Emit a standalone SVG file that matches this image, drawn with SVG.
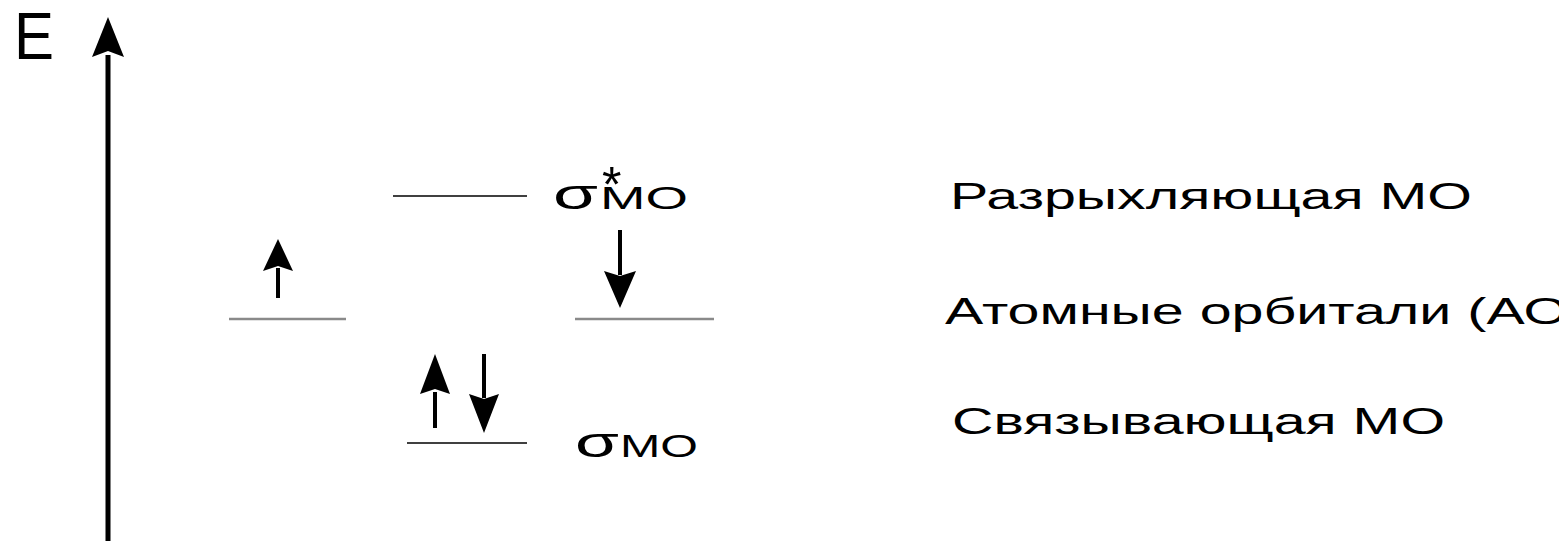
<svg xmlns="http://www.w3.org/2000/svg" width="1559" height="541" viewBox="0 0 1559 541">
  <style>
    .axis { stroke: #000; stroke-width: 5; fill: none; }
    .spin { stroke: #000; stroke-width: 4; fill: none; }
    .mo { stroke: #000; stroke-width: 1.5; }
    .ao { stroke: #8a8a8a; stroke-width: 2.5; }
    .lbl { font-family: "Liberation Sans", Arial, sans-serif; font-size: 36px; fill: #000; }
    .sym { font-family: "Liberation Sans", Arial, sans-serif; fill: #000; }
  </style>

  <!-- energy axis -->
  <g id="energy-axis">
    <line class="axis" x1="108" y1="541" x2="108" y2="55"/>
    <path d="M108,17 L92,57 L108,51 L124,57 Z" fill="#000"/>
    <text class="sym" x="14" y="59" font-size="66" textLength="40" lengthAdjust="spacingAndGlyphs">E</text>
  </g>

  <!-- energy levels -->
  <g id="level-antibonding">
    <line class="mo" x1="393" y1="196" x2="527" y2="196"/>
  </g>
  <g id="level-ao-left">
    <line class="ao" x1="229" y1="319" x2="346" y2="319"/>
  </g>
  <g id="level-ao-right">
    <line class="ao" x1="575" y1="319" x2="714" y2="319"/>
  </g>
  <g id="level-bonding">
    <line class="mo" x1="407" y1="443" x2="527" y2="443"/>
  </g>

  <!-- electron spins -->
  <g id="connectors">
    <g id="spin-ao-left">
      <line class="spin" x1="278" y1="298" x2="278" y2="268"/>
      <path d="M278,239 L263,271 L278,266 L293,271 Z" fill="#000"/>
    </g>
    <g id="spin-ao-right">
      <line class="spin" x1="620" y1="230" x2="620" y2="275"/>
      <path d="M620,308 L604,271 L620,276 L636,271 Z" fill="#000"/>
    </g>
    <g id="spin-bonding-up">
      <line class="spin" x1="435" y1="428" x2="435" y2="392"/>
      <path d="M435,354 L420,394 L435,389 L450,394 Z" fill="#000"/>
    </g>
    <g id="spin-bonding-down">
      <line class="spin" x1="484" y1="354" x2="484" y2="398"/>
      <path d="M484,433 L469,394 L484,399 L499,394 Z" fill="#000"/>
    </g>
  </g>

  <!-- orbital symbols -->
  <g id="sym-antibonding">
    <text class="sym" x="553" y="209" font-size="42" textLength="45" lengthAdjust="spacingAndGlyphs">σ</text>
    <text class="sym" x="600" y="209" font-size="31" textLength="88" lengthAdjust="spacingAndGlyphs">МО</text>
    <text class="sym" x="602" y="202" font-size="50">*</text>
  </g>
  <g id="sym-bonding">
    <text class="sym" x="575" y="457" font-size="42" textLength="44" lengthAdjust="spacingAndGlyphs">σ</text>
    <text class="sym" x="620" y="457" font-size="31" textLength="78" lengthAdjust="spacingAndGlyphs">МО</text>
  </g>

  <!-- legend -->
  <g id="label-antibonding">
    <text class="lbl" x="950" y="209" textLength="522" lengthAdjust="spacingAndGlyphs">Разрыхляющая МО</text>
  </g>
  <g id="label-ao">
    <text class="lbl" x="945" y="324" textLength="623" lengthAdjust="spacingAndGlyphs">Атомные орбитали (АО</text>
  </g>
  <g id="label-bonding">
    <text class="lbl" x="952" y="434" textLength="493" lengthAdjust="spacingAndGlyphs">Связывающая МО</text>
  </g>
</svg>
